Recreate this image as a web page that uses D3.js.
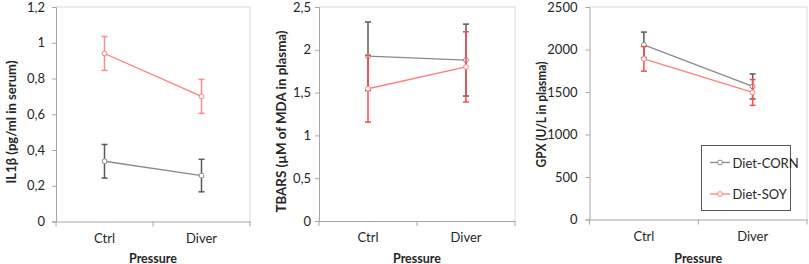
<!DOCTYPE html>
<html>
<head>
<meta charset="utf-8">
<script src="https://cdn.jsdelivr.net/npm/d3@7"></script>
<style>
  html, body { margin: 0; padding: 0; background: #fff; }
  svg { display: block; font-family: Lato, "Open Sans", sans-serif; }
</style>
</head>
<body>
<svg id="chart" width="809" height="264"></svg>
<script>
// ---------- data ----------
const categories = ["Ctrl", "Diver"];
const seriesNames = ["Diet-CORN", "Diet-SOY"];

const il1bCorn = [0.337, 0.257];
const il1bCornErr = [0.094, 0.091];
const il1bSoy = [0.94, 0.70];
const il1bSoyErr = [0.095, 0.095];

const tbarsCorn = [1.925, 1.88];
const tbarsCornErr = [0.40, 0.42];
const tbarsSoy = [1.545, 1.80];
const tbarsSoyErr = [0.39, 0.41];

const gpxCorn = [2055, 1565];
const gpxCornErr = [150, 147];
const gpxSoy = [1890, 1495];
const gpxSoyErr = [145, 152];

const il1bTicks = [0, 0.2, 0.4, 0.6, 0.8, 1, 1.2];
const tbarsTicks = [0, 0.5, 1, 1.5, 2, 2.5];
const gpxTicks = [0, 500, 1000, 1500, 2000, 2500];

const yTitles = ["IL1\u03B2 (pg/ml in serum)", "TBARS (\u00B5M of MDA in plasma)", "GPX (U/L in plasma)"];
const xTitle = "Pressure";

// ---------- styles ----------
const colors = {
  cornLine: "#8a8a8a", cornErr: "#5a5a5a",
  soyLine: "#ff7f7f", soyErr: "#ff4a4a",
  axis: "#a6a6a6", frame: "#d9d9d9", text: "#262626"
};

const locale = d3.formatLocale({decimal: ",", thousands: "", grouping: [3], currency: ["", ""]});
const fmt = locale.format("~g");

const panels = [
  {left: 56, right: 250, top: 7, bottom: 221.5, max: 1.2, ticks: il1bTicks, pad: 7,
   titleX: 10.5, titleY: 122, titleLen: 123,
   corn: il1bCorn, cornErr: il1bCornErr, soy: il1bSoy, soyErr: il1bSoyErr, soyErrColor: "#ff8a8a"},
  {left: 319, right: 515, top: 7, bottom: 221, max: 2.5, ticks: tbarsTicks, pad: 4,
   titleX: 281, titleY: 121.5, titleLen: 182,
   corn: tbarsCorn, cornErr: tbarsCornErr, soy: tbarsSoy, soyErr: tbarsSoyErr, soyErrColor: colors.soyErr},
  {left: 589.5, right: 807, top: 7, bottom: 219.5, max: 2500, ticks: gpxTicks, pad: 8,
   titleX: 541, titleY: 114.5, titleLen: 106,
   corn: gpxCorn, cornErr: gpxCornErr, soy: gpxSoy, soyErr: gpxSoyErr, soyErrColor: colors.soyErr, legend: true}
];

const svg = d3.select("#chart");

panels.forEach((p, i) => {
  const g = svg.append("g");
  const x = d3.scaleBand().domain(categories).range([p.left, p.right]).padding(0);
  const y = d3.scaleLinear().domain([0, p.max]).range([p.bottom, p.top]);

  // plot frame (top and right)
  g.append("path")
    .attr("d", `M${p.left},${p.top}H${p.right}V${p.bottom}`)
    .attr("fill", "none").attr("stroke", colors.frame).attr("stroke-width", 1);

  // y axis
  const yAxis = d3.axisLeft(y).tickValues(p.ticks).tickSize(4).tickPadding(p.pad).tickFormat(fmt);
  const ya = g.append("g").attr("transform", `translate(${p.left},0)`).call(yAxis);
  ya.select(".domain").attr("stroke", colors.axis);
  ya.selectAll(".tick line").attr("stroke", colors.axis);
  ya.selectAll(".tick text").attr("fill", colors.text).style("font-size", "13px")
    .style("font-family", "Lato, 'Open Sans', sans-serif");

  // x axis: labels from band scale, tick marks at band boundaries
  const xAxis = d3.axisBottom(x).tickSize(0).tickPadding(12);
  const xa = g.append("g").attr("transform", `translate(0,${p.bottom})`).call(xAxis);
  xa.select(".domain").attr("stroke", colors.axis);
  xa.selectAll(".tick text").attr("fill", colors.text).style("font-size", "13px")
    .style("font-family", "Lato, 'Open Sans', sans-serif");
  const bounds = categories.map(c => x(c)).concat([x(categories[categories.length - 1]) + x.bandwidth()]);
  g.selectAll(".xb").data(bounds).enter().append("line")
    .attr("x1", d => d).attr("x2", d => d)
    .attr("y1", p.bottom).attr("y2", p.bottom + 5)
    .attr("stroke", colors.axis);

  const cx = c => x(c) + x.bandwidth() / 2;

  const drawSeries = (vals, errs, lineColor, errColor) => {
    const pts = categories.map((c, k) => ({c, v: vals[k], e: errs[k]}));
    const eb = g.append("g");
    pts.forEach(d => {
      eb.append("line").attr("x1", cx(d.c)).attr("x2", cx(d.c))
        .attr("y1", y(d.v - d.e)).attr("y2", y(d.v + d.e))
        .attr("stroke", errColor).attr("stroke-width", 1.5);
      [d.v - d.e, d.v + d.e].forEach(v => {
        eb.append("line").attr("x1", cx(d.c) - 3).attr("x2", cx(d.c) + 3)
          .attr("y1", y(v)).attr("y2", y(v))
          .attr("stroke", errColor).attr("stroke-width", 1.5);
      });
    });
    g.append("path").datum(pts)
      .attr("d", d3.line().x(d => cx(d.c)).y(d => y(d.v)))
      .attr("fill", "none").attr("stroke", lineColor).attr("stroke-width", 1.3);
    g.selectAll(null).data(pts).enter().append("circle")
      .attr("cx", d => cx(d.c)).attr("cy", d => y(d.v)).attr("r", 2.4)
      .attr("fill", "#fff").attr("stroke", lineColor).attr("stroke-width", 1);
  };

  drawSeries(p.corn, p.cornErr, colors.cornLine, colors.cornErr);
  drawSeries(p.soy, p.soyErr, colors.soyLine, p.soyErrColor);

  // titles
  g.append("text")
    .attr("transform", `translate(${p.titleX},${p.titleY}) rotate(-90)`)
    .attr("text-anchor", "middle").attr("dominant-baseline", "central")
    .attr("textLength", p.titleLen).attr("lengthAdjust", "spacingAndGlyphs")
    .attr("fill", colors.text).style("font-size", "13.5px").style("font-weight", "bold")
    .text(yTitles[i]);
  g.append("text")
    .attr("x", (p.left + p.right) / 2).attr("y", 262.5)
    .attr("text-anchor", "middle")
    .attr("fill", colors.text).style("font-size", "12.5px").style("font-weight", "bold")
    .text(xTitle);

  if (p.legend) {
    const lg = g.append("g");
    lg.append("rect").attr("x", 701.5).attr("y", 145.5).attr("width", 89).attr("height", 65)
      .attr("fill", "#fff").attr("stroke", "#595959").attr("stroke-width", 1);
    const items = [
      {name: seriesNames[0], color: colors.cornLine, yy: 162.5},
      {name: seriesNames[1], color: colors.soyLine, yy: 194}
    ];
    items.forEach(it => {
      lg.append("line").attr("x1", 710).attr("x2", 730).attr("y1", it.yy).attr("y2", it.yy)
        .attr("stroke", it.color).attr("stroke-width", 1.3);
      lg.append("circle").attr("cx", 720).attr("cy", it.yy).attr("r", 2.4)
        .attr("fill", "#fff").attr("stroke", it.color);
      lg.append("text").attr("x", 732.5).attr("y", it.yy).attr("dominant-baseline", "central")
        .attr("fill", colors.text).style("font-size", "13px").text(it.name);
    });
  }
});
</script>
</body>
</html>
